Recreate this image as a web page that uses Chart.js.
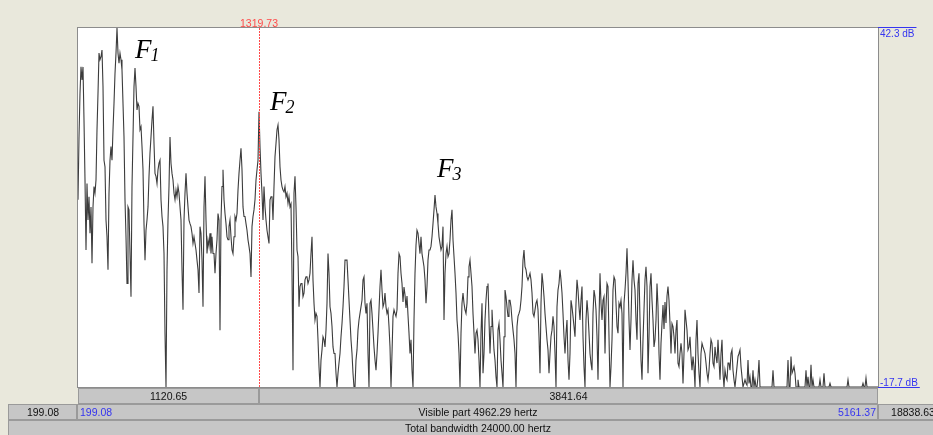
<!DOCTYPE html>
<html>
<head>
<meta charset="utf-8">
<script src="https://cdn.jsdelivr.net/npm/chart.js@4.4.1/dist/chart.umd.min.js"></script>
<style>
  html, body { margin: 0; padding: 0; background: #e9e8dc; overflow: hidden; }
  canvas { display: block; }
</style>
</head>
<body>
<canvas id="spectrum" width="933" height="435"></canvas>
<script>
// Visible window of the spectrum (Hz) and level range (dB)
const startHz = 199.08;
const endHz = 5161.37;
const totalBandwidthHz = 24000;
const topDb = 42.3;
const bottomDb = -17.7;
const cursorHz = 1319.73;

// Spectrum levels (dB), one value per analysis bin across the visible window
const spectrumDb = [
  // ~199 - 1036 Hz
  13.6, 24.1, 31.4, 35.8, 33.6, 35.8, 26.9, 16.9, 5.2, 16.3,
  10.2, 14.1, 8.0, 12.4, 3.0, 12.4, 15.8, 14.7, 16.9, 25.3,
  31.4, 38.1, 37.0, 37.5, 38.6, 32.5, 20.2, 19.1, 10.2, 7.4,
  1.9, 14.7, 20.2, 22.5, 20.2, 25.3, 29.7, 34.7, 38.1, 42.3,
  38.1, 36.4, 38.1, 37.0, 35.3, 29.7, 24.1, 13.6, 7.4, -0.4,
  12.4, 11.9, 4.6, -2.6, 15.8, 24.1, 32.5, 35.6, 32.5, 28.6,
  29.7, 29.2, 25.3, 25.8, 22.5, 18.6, 9.6, 3.5, 8.5, 10.2,
  12.4, 17.5, 21.4, 24.1, 26.9, 29.2, 23.0, 18.0, 17.5, 16.3,
  18.6, 19.7, 20.2, 13.6, 10.8, 9.1, 4.6, -8.7, -17.7, 1.9,
  10.2, 15.8, 24.1, 19.7, 18.0, 16.9, 14.7, 13.6, 15.2, 14.1,
  15.8, 14.7, 12.4, 10.2, 1.9, -4.8, 10.2, 14.7, 18.0, 14.7,
  12.4, 10.2, 9.6, 9.1, 8.0, 6.3, 7.4, 6.3, 5.2, 3.5,
  1.9, -2.0, 9.1, 8.0, 3.5, -4.3, 12.4, 17.5, 10.2, 4.6,
  6.9, 5.8, 8.0, 4.6, 7.4, 4.6,
  // ~1042 - 1861 Hz
  4.6, 1.3, 4.6, 6.9, 11.3, 10.2, -8.2, 10.2, 15.8, 18.6,
  13.6, 11.3, 9.6, 7.4, 6.9, 9.1, 10.2, 7.4, 5.2, 4.6,
  7.4, 10.8, 10.2, 11.3, 15.2, 18.0, 20.2, 22.2, 18.6, 12.4,
  10.8, 10.8, 9.6, 8.5, 6.9, 5.8, 4.6, 0.7, 9.1, 10.8,
  11.9, 13.6, 16.9, 18.6, 20.2, 28.3, 22.5, 18.0, 14.7, 10.2,
  15.8, 12.4, 10.2, 8.5, 7.4, 6.3, 13.6, 14.1, 14.1, 10.2,
  15.8, 20.8, 23.0, 25.3, 26.1, 23.6, 19.1, 16.9, 15.8, 15.2,
  14.9, 15.8, 14.1, 14.7, 13.0, 14.1, 12.4, 12.9, 1.3, -14.9,
  14.7, 17.5, 12.4, 5.2, 4.1, -4.3, -0.9, -0.4, -0.4, -2.6,
  -2.0, 0.2, 0.7, 0.7, -0.4, 0.2, 1.3, 4.6, 7.4, 0.2,
  -3.7, -6.5, -5.4, -5.9, -9.8, -14.3, -17.7, -13.2, -11.5, -9.3,
  -9.8, -11.0, -8.2, -3.7, 4.6, 1.3, -4.3, -5.4, -7.6, -11.0,
  -12.1, -12.1, -15.4, -17.7, -15.4, -13.7, -12.1, -9.3, -7.1, -4.3,
  -0.9, 3.5, 3.5, 3.5,
  // ~1867 - 2699 Hz
  0.2, -3.2, -6.5, -9.8, -12.1, -15.4, -17.7, -17.7, -13.2, -11.5,
  -8.2, -6.5, -5.4, -4.3, -3.2, 0.2, 0.7, -3.7, -5.4, -3.7,
  -12.1, -17.7, -3.7, -3.2, -5.4, -8.2, -11.0, -13.2, -14.9, -12.1,
  -8.7, -4.8, -0.9, 1.9, -1.5, -4.3, -3.7, -2.0, -4.3, -5.4,
  -4.8, -7.6, -11.0, -17.7, -12.1, -5.9, -4.8, -5.4, -5.9, -4.8,
  1.3, 4.6, 4.1, 1.3, -0.4, -3.5, -1.0, -2.3, -4.5, -2.5,
  -5.7, -8.7, -12.1, -9.8, -14.9, -17.7, -6.5, 1.3, 6.0, 8.5,
  8.0, 6.3, 4.6, 7.4, 4.6, 3.5, 2.4, 0.2, -3.7, -0.9,
  3.5, 5.2, 5.2, 5.8, 7.4, 9.6, 11.9, 14.4, 12.4, 11.3,
  9.6, 7.4, 6.3, 5.2, 5.8, 9.1, -6.5, 1.3, 4.6, 5.8,
  4.1, 4.6, 6.9, 10.2, 11.9, 6.9, 4.1, 1.3, -2.0, -6.5,
  -8.7, -12.1, -17.7, -8.7, -3.7, -2.0, -3.7, -4.8, -5.4, -3.7,
  0.7, 2.4, 3.5, 1.3, -0.9, -5.4, -8.7, -12.1, -8.7, -8.2,
  -9.8, -13.2, -17.7, -8.7, -3.7,
  // ~2705 - 3536 Hz
  -15.4, -12.1, -6.5, -3.2, -0.9, -0.4, -6.5, -12.1, -7.6, -4.8,
  -8.2, -11.5, -13.2, -16.0, -17.7, -8.2, -7.1, -9.8, -13.2, -15.4,
  -17.7, -9.3, -1.5, -2.6, -4.3, -5.9, -3.2, -3.2, -4.3, -6.5,
  -8.2, -9.8, -12.1, -17.7, -7.6, -5.9, -5.4, -4.8, -3.2, -0.9,
  3.5, 5.2, 2.4, 1.9, 0.7, 0.2, 0.7, 1.3, 0.2, -2.0,
  -5.4, -5.9, -4.8, -3.7, -3.2, -4.8, -9.3, -15.4, -3.7, 1.3,
  -0.4, -2.6, -5.4, -7.6, -9.8, -11.5, -15.4, -12.1, -9.3, -8.2,
  -5.9, -7.6, -12.1, -17.7, -4.3, -1.5, -0.4, 1.9, 0.2, -2.0,
  -5.4, -9.3, -12.1, -8.7, -6.5, -13.2, -16.5, -12.1, -3.2, -4.3,
  -5.9, -7.6, -9.3, -3.7, 0.2, -1.5, -4.3, -6.5, -3.2, -0.9,
  -9.3, -14.3, -17.7, -6.5, -3.2, -5.4, -8.7, -12.1, -13.7, -14.9,
  -5.4, -1.5, -2.6, -4.8, -9.3, -16.5, -6.5, 1.3, -3.7, -6.5,
  -3.2, -2.6, -12.1, -4.3, -0.4, -0.9, -9.3, -17.7, -14.3, -9.8,
  -1.5, 0.7, 0.2, -3.7, -7.6,
  // ~3542 - 4367 Hz
  -8.7, -3.7, -4.3, -3.2, -5.4, -17.7, -3.7, -1.5, 1.3, 5.5,
  0.2, -6.5, -11.5, -6.5, 0.2, 3.5, 0.2, -1.5, -6.5, -9.8,
  -0.4, 1.3, -6.5, -13.2, -16.5, -9.8, -4.8, 0.2, 2.4, -0.9,
  -15.4, -9.3, -0.9, 1.3, -3.2, -6.5, -11.0, -9.8, -6.5, -0.4,
  -4.3, -12.1, -16.5, -10.4, -7.1, -4.0, -8.0, -3.5, -7.0, -2.5,
  -0.9, -3.2, -7.1, -12.1, -7.1, -7.6, -9.3, -12.1, -8.2, -6.5,
  -13.7, -14.3, -12.1, -10.4, -12.1, -17.1, -12.1, -4.8, -6.5, -8.2,
  -11.5, -11.0, -9.3, -12.6, -14.9, -12.6, -14.3, -17.7, -9.8, -6.5,
  -12.1, -15.4, -17.7, -12.1, -10.4, -11.0, -11.5, -12.1, -13.7, -15.4,
  -16.5, -14.9, -12.1, -9.8, -10.4, -13.7, -14.3, -11.0, -12.6, -13.7,
  -9.8, -13.2, -16.5, -12.1, -9.8, -15.4, -17.7, -14.9, -16.0, -16.5,
  -13.7, -13.7, -14.9, -12.1, -11.5, -14.9, -16.5, -17.7, -16.0, -14.3,
  -12.6, -12.1, -11.5, -14.3, -16.0, -17.7, -17.1, -16.5, -17.1, -17.4,
  -13.2, -17.1, -16.0,
  // ~4373 - 5161 Hz
  -17.7, -17.7, -14.9, -17.7, -16.5, -17.7, -17.7, -16.0, -13.2, -17.7,
  -17.7, -17.7, -17.7, -17.7, -17.7, -17.7, -17.7, -17.7, -17.7, -17.7,
  -17.7, -17.7, -14.9, -17.7, -17.7, -17.7, -17.7, -17.7, -17.7, -17.7,
  -17.7, -17.7, -17.7, -17.7, -17.7, -17.7, -17.7, -13.2, -17.7, -17.7,
  -12.6, -15.4, -14.9, -14.3, -15.4, -17.7, -17.7, -16.5, -17.7, -17.7,
  -17.7, -17.7, -17.7, -17.7, -17.7, -14.9, -17.7, -16.0, -17.7, -17.7,
  -14.0, -17.7, -16.5, -17.7, -17.7, -17.7, -17.7, -17.7, -17.7, -16.5,
  -17.7, -17.7, -17.7, -15.4, -17.7, -17.7, -17.7, -17.7, -17.7, -17.1,
  -17.7, -17.7, -17.7, -17.7, -17.7, -17.7, -17.7, -17.7, -17.7, -17.7,
  -17.7, -17.7, -17.7, -17.7, -17.7, -17.7, -17.7, -16.5, -17.7, -17.7,
  -17.7, -17.7, -17.7, -17.7, -17.7, -17.7, -17.7, -17.7, -17.7, -17.7,
  -17.7, -17.7, -17.1, -17.7, -17.7, -16.2, -17.7, -17.7, -17.7, -17.7,
  -17.7, -17.7, -17.7, -17.7, -17.7, -17.7, -17.7, -17.7
];

// Formant annotations, anchored in Hz / dB
const formantNames = ['F', 'F', 'F'];
const formantIndices = ['1', '2', '3'];
const formantHz = [552, 1390, 2426];
const formantDb = [37.3, 28.6, 17.4];

const binHz = (endHz - startHz) / (spectrumDb.length - 1);
const points = spectrumDb.map((db, i) => ({ x: startHz + i * binHz, y: db }));

const BEIGE = '#e9e8dc';
const PANEL = '#c6c6c6';
const PANEL_EDGE = '#9a9a9a';
const BLUE = '#3535f0';
const RED = '#ff4a4a';
const UI_FONT = '"Liberation Sans", Arial, sans-serif';
const SERIF = '"Liberation Serif", "Times New Roman", serif';

function cell(ctx, x0, y0, x1, y1) {
  ctx.fillStyle = PANEL;
  ctx.fillRect(x0, y0, x1 - x0, y1 - y0);
  ctx.strokeStyle = PANEL_EDGE;
  ctx.lineWidth = 1;
  ctx.strokeRect(x0 + 0.5, y0 + 0.5, x1 - x0 - 1, y1 - y0 - 1);
}

function text(ctx, str, x, y, align, color, font) {
  ctx.font = font;
  ctx.fillStyle = color;
  ctx.textAlign = align;
  ctx.textBaseline = 'middle';
  ctx.fillText(str, x, y);
}

const frame = {
  id: 'praatFrame',
  beforeDraw(chart) {
    const { ctx, chartArea: a, width, height } = chart;
    ctx.save();
    ctx.fillStyle = BEIGE;
    ctx.fillRect(0, 0, width, height);
    ctx.fillStyle = '#ffffff';
    ctx.fillRect(a.left, a.top, a.right - a.left, a.bottom - a.top);
    ctx.restore();
  },
  afterDraw(chart) {
    const { ctx, chartArea: a, scales } = chart;
    const xs = scales.x, ys = scales.y;
    const cx = Math.round(xs.getPixelForValue(cursorHz));
    const rowH = 16;
    const uiFont = '10.5px ' + UI_FONT;
    ctx.save();

    // plot border
    ctx.strokeStyle = '#8c8c8c';
    ctx.lineWidth = 1;
    ctx.strokeRect(a.left - 0.5, a.top - 0.5, a.right - a.left + 1, a.bottom - a.top + 1);

    // row 1: segment widths left / right of the cursor
    const r1 = a.bottom + 1;
    cell(ctx, a.left, r1, cx, r1 + rowH);
    cell(ctx, cx, r1, a.right, r1 + rowH);
    text(ctx, (cursorHz - startHz).toFixed(2), (a.left + cx) / 2, r1 + rowH / 2 + 1, 'center', '#111', uiFont);
    text(ctx, (endHz - cursorHz).toFixed(2), (cx + a.right) / 2, r1 + rowH / 2 + 1, 'center', '#111', uiFont);

    // row 2: hidden left part, visible part, hidden right part
    const r2 = r1 + rowH;
    cell(ctx, 8, r2, a.left - 1, r2 + rowH);
    cell(ctx, a.left - 1, r2, a.right, r2 + rowH);
    cell(ctx, a.right, r2, a.right + 70, r2 + rowH);
    text(ctx, startHz.toFixed(2), (8 + a.left) / 2, r2 + rowH / 2 + 1, 'center', '#111', uiFont);
    text(ctx, startHz.toFixed(2), a.left + 2, r2 + rowH / 2 + 1, 'left', BLUE, uiFont);
    text(ctx, 'Visible part ' + (endHz - startHz).toFixed(2) + ' hertz', (a.left + a.right) / 2, r2 + rowH / 2 + 1, 'center', '#111', uiFont);
    text(ctx, endHz.toFixed(2), a.right - 2, r2 + rowH / 2 + 1, 'right', BLUE, uiFont);
    text(ctx, (totalBandwidthHz - endHz).toFixed(2), a.right + 35, r2 + rowH / 2 + 1, 'center', '#111', uiFont);

    // row 3: total bandwidth
    const r3 = r2 + rowH;
    cell(ctx, 8, r3, a.right + 70, r3 + rowH + 4);
    text(ctx, 'Total bandwidth ' + totalBandwidthHz.toFixed(2) + ' hertz', (8 + a.right + 70) / 2, r3 + rowH / 2 + 1, 'center', '#111', uiFont);

    // level marks on the right
    ctx.font = '10px ' + UI_FONT;
    const topLabel = topDb.toFixed(1) + ' dB';
    const botLabel = bottomDb.toFixed(1) + ' dB';
    ctx.fillStyle = BLUE;
    ctx.textAlign = 'left';
    ctx.textBaseline = 'top';
    ctx.fillText(topLabel, a.right + 2, a.top + 1);
    ctx.textBaseline = 'alphabetic';
    ctx.fillText(botLabel, a.right + 2, a.bottom - 1);
    ctx.strokeStyle = BLUE;
    ctx.beginPath();
    ctx.moveTo(a.right, a.top - 0.5);
    ctx.lineTo(a.right + 4 + ctx.measureText(topLabel).width, a.top - 0.5);
    ctx.moveTo(a.right, a.bottom + 0.5);
    ctx.lineTo(a.right + 4 + ctx.measureText(botLabel).width, a.bottom + 0.5);
    ctx.stroke();

    // cursor: dotted red line across the plot
    ctx.fillStyle = RED;
    for (let y = a.top; y < a.bottom + 1; y += 3) {
      ctx.fillRect(cx, y, 1, 2);
    }
    ctx.font = '10.5px ' + UI_FONT;
    ctx.textAlign = 'center';
    ctx.textBaseline = 'alphabetic';
    ctx.fillText(cursorHz.toFixed(2), cx, a.top - 1);

    // formant labels
    ctx.fillStyle = '#000';
    ctx.textAlign = 'left';
    ctx.textBaseline = 'alphabetic';
    for (let i = 0; i < formantHz.length; i++) {
      const px = xs.getPixelForValue(formantHz[i]);
      const py = ys.getPixelForValue(formantDb[i]);
      ctx.font = 'italic 27px ' + SERIF;
      ctx.fillText(formantNames[i], px, py);
      const w = ctx.measureText(formantNames[i]).width;
      ctx.font = 'italic 18px ' + SERIF;
      ctx.fillText(formantIndices[i], px + w - 1, py + 3);
    }
    ctx.restore();
  }
};

new Chart(document.getElementById('spectrum'), {
  type: 'line',
  data: {
    datasets: [{
      data: points,
      borderColor: '#3c3c3c',
      borderWidth: 1.1,
      pointRadius: 0,
      tension: 0,
      fill: false
    }]
  },
  options: {
    responsive: false,
    animation: false,
    devicePixelRatio: 1,
    events: [],
    layout: { padding: { left: 78, right: 55, top: 28, bottom: 48 } },
    plugins: { legend: { display: false }, tooltip: { enabled: false } },
    scales: {
      x: { type: 'linear', display: false, min: startHz, max: endHz },
      y: { display: false, min: bottomDb, max: topDb }
    }
  },
  plugins: [frame]
});
</script>
</body>
</html>
